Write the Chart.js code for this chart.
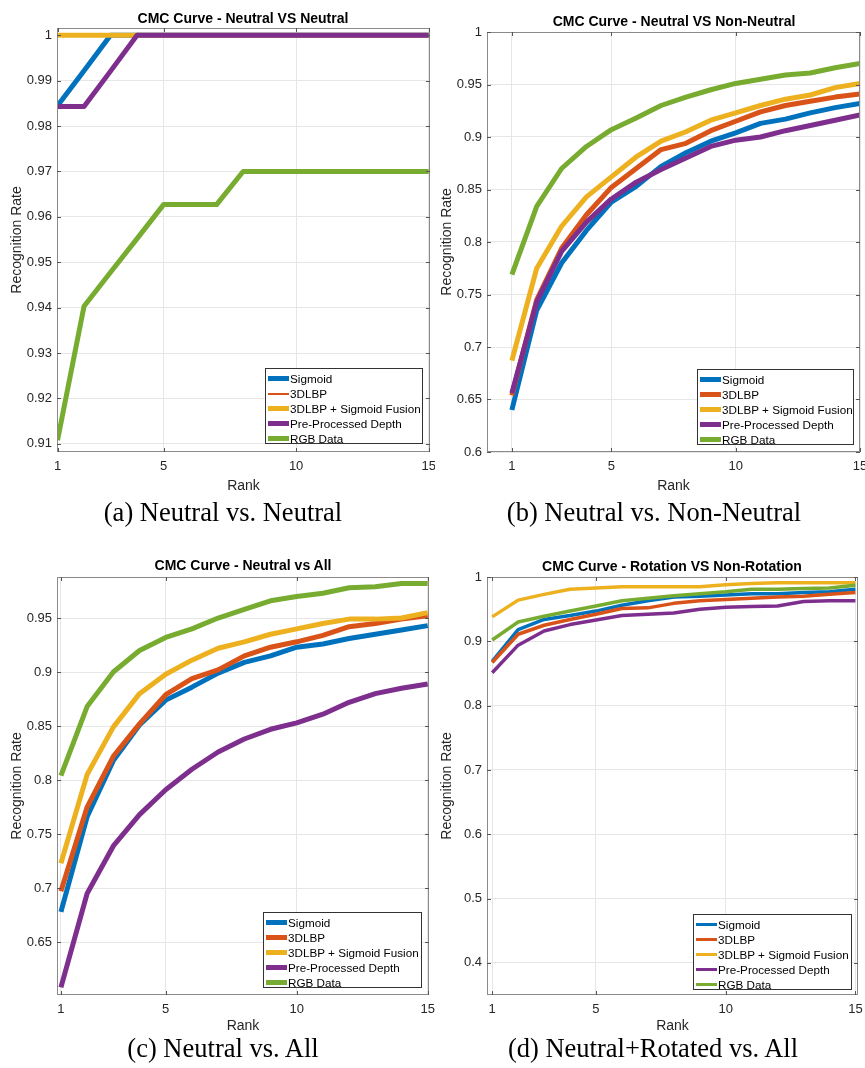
<!DOCTYPE html>
<html>
<head>
<meta charset="utf-8">
<script src="https://cdn.jsdelivr.net/npm/chart.js@4.4.1/dist/chart.umd.min.js"></script>
<style>
  html, body { margin: 0; padding: 0; background: #fff; }
  body { position: relative; width: 865px; height: 1068px; overflow: hidden; }
  canvas { position: absolute; }
  .ttl { position: absolute; font: bold 14px "Liberation Sans", Arial, sans-serif; color: #000; white-space: nowrap; transform: translate(-50%, -50%); }
  .cap { position: absolute; font: 26.5px "Liberation Serif", "Times New Roman", serif; color: #000; white-space: nowrap; transform: translate(-50%, -50%); }
  .leg { position: absolute; background: #fff; border: 1px solid #333; box-sizing: border-box; font: 11.7px "Liberation Sans", Arial, sans-serif; color: #000; }
  .leg .row { position: absolute; left: 0; height: 15px; white-space: nowrap; }
  .leg .sw { position: absolute; left: 2px; width: 21px; }
  .leg .tx { position: absolute; left: 24px; top: 0; line-height: 15px; }
</style>
</head>
<body>
<canvas id="ca" width="435" height="500" style="left:0px;top:0px"></canvas>
<canvas id="cb" width="435" height="500" style="left:430px;top:0px"></canvas>
<canvas id="cc" width="435" height="500" style="left:0px;top:540px"></canvas>
<canvas id="cd" width="435" height="500" style="left:430px;top:540px"></canvas>

<div class="ttl" style="left:243px;top:18px">CMC Curve - Neutral VS Neutral</div>
<div class="ttl" style="left:674px;top:21px">CMC Curve - Neutral VS Non-Neutral</div>
<div class="ttl" style="left:243px;top:565px">CMC Curve - Neutral vs All</div>
<div class="ttl" style="left:672px;top:566px">CMC Curve - Rotation VS Non-Rotation</div>

<div class="cap" style="left:223px;top:512px">(a) Neutral vs. Neutral</div>
<div class="cap" style="left:654px;top:512px">(b) Neutral vs. Non-Neutral</div>
<div class="cap" style="left:223px;top:1048px">(c) Neutral vs. All</div>
<div class="cap" style="left:653px;top:1048px">(d) Neutral+Rotated vs. All</div>

<script>
// shared
const ranks = [1, 2, 3, 4, 5, 6, 7, 8, 9, 10, 11, 12, 13, 14, 15];
const xTicks = [1, 5, 10, 15];
const seriesNames = ['Sigmoid', '3DLBP', '3DLBP + Sigmoid Fusion', 'Pre-Processed Depth', 'RGB Data'];
const seriesColors = ['#0072BD', '#D95319', '#EDB120', '#7E2F8E', '#77AC30'];

// (a) Neutral vs Neutral
const aSigmoid = [0.9845, 0.9922, 1, 1, 1, 1, 1, 1, 1, 1, 1, 1, 1, 1, 1];
const a3dlbp   = [1, 1, 1, 1, 1, 1, 1, 1, 1, 1, 1, 1, 1, 1, 1];
const aFusion  = [1, 1, 1, 1, 1, 1, 1, 1, 1, 1, 1, 1, 1, 1, 1];
const aDepth   = [0.9843, 0.9843, 0.9921, 1, 1, 1, 1, 1, 1, 1, 1, 1, 1, 1, 1];
const aRgb     = [0.9108, 0.9403, 0.9478, 0.9552, 0.9627, 0.9627, 0.9627, 0.970, 0.970, 0.970, 0.970, 0.970, 0.970, 0.970, 0.970];
const aYTicks  = [0.91, 0.92, 0.93, 0.94, 0.95, 0.96, 0.97, 0.98, 0.99, 1];

// (b) Neutral vs Non-Neutral
const bSigmoid = [0.640, 0.735, 0.780, 0.811, 0.838, 0.853, 0.872, 0.885, 0.896, 0.904, 0.913, 0.917, 0.923, 0.928, 0.932];
const b3dlbp   = [0.654, 0.745, 0.794, 0.826, 0.852, 0.870, 0.888, 0.894, 0.906, 0.915, 0.924, 0.930, 0.934, 0.938, 0.941];
const bFusion  = [0.687, 0.775, 0.815, 0.843, 0.862, 0.881, 0.896, 0.905, 0.916, 0.923, 0.930, 0.936, 0.940, 0.947, 0.951];
const bDepth   = [0.656, 0.743, 0.791, 0.819, 0.841, 0.857, 0.869, 0.880, 0.891, 0.897, 0.900, 0.906, 0.911, 0.916, 0.921];
const bRgb     = [0.769, 0.834, 0.870, 0.891, 0.907, 0.918, 0.930, 0.938, 0.945, 0.951, 0.955, 0.959, 0.961, 0.966, 0.970];
const bYTicks  = [0.6, 0.65, 0.7, 0.75, 0.8, 0.85, 0.9, 0.95, 1];

// (c) Neutral vs All
const cSigmoid = [0.678, 0.766, 0.818, 0.851, 0.874, 0.886, 0.899, 0.909, 0.915, 0.923, 0.926, 0.931, 0.935, 0.939, 0.943];
const c3dlbp   = [0.697, 0.775, 0.822, 0.852, 0.879, 0.894, 0.902, 0.915, 0.923, 0.928, 0.934, 0.942, 0.945, 0.949, 0.952];
const cFusion  = [0.723, 0.805, 0.849, 0.880, 0.898, 0.911, 0.922, 0.928, 0.935, 0.940, 0.945, 0.949, 0.949, 0.950, 0.955];
const cDepth   = [0.608, 0.695, 0.739, 0.768, 0.791, 0.810, 0.826, 0.838, 0.847, 0.853, 0.861, 0.872, 0.880, 0.885, 0.889];
const cRgb     = [0.804, 0.868, 0.900, 0.920, 0.932, 0.940, 0.950, 0.958, 0.966, 0.970, 0.973, 0.978, 0.979, 0.982, 0.982];
const cYTicks  = [0.65, 0.7, 0.75, 0.8, 0.85, 0.9, 0.95];

// (d) Rotation vs Non-Rotation
const dSigmoid = [0.869, 0.918, 0.934, 0.940, 0.947, 0.956, 0.963, 0.969, 0.970, 0.972, 0.974, 0.974, 0.976, 0.977, 0.981];
const d3dlbp   = [0.867, 0.911, 0.925, 0.934, 0.942, 0.951, 0.952, 0.959, 0.963, 0.965, 0.967, 0.969, 0.970, 0.973, 0.976];
const dFusion  = [0.938, 0.964, 0.973, 0.981, 0.983, 0.985, 0.985, 0.985, 0.985, 0.988, 0.990, 0.991, 0.991, 0.991, 0.991];
const dDepth   = [0.851, 0.894, 0.916, 0.926, 0.933, 0.940, 0.942, 0.944, 0.950, 0.953, 0.954, 0.955, 0.962, 0.963, 0.963];
const dRgb     = [0.902, 0.930, 0.939, 0.947, 0.955, 0.963, 0.967, 0.971, 0.974, 0.977, 0.981, 0.981, 0.982, 0.983, 0.987];
const dYTicks  = [0.4, 0.5, 0.6, 0.7, 0.8, 0.9, 1];

const fontFamily = '"Liberation Sans", Arial, sans-serif';
const tickColor = '#262626';
const gridColor = '#e6e6e6';
const boxColor = '#8a8a8a';

// MATLAB style box + little inward tick marks
const boxPlugin = {
  id: 'box',
  afterDraw(chart) {
    const {ctx, chartArea: a, scales} = chart;
    ctx.save();
    ctx.strokeStyle = boxColor;
    ctx.lineWidth = 1;
    ctx.strokeRect(a.left + 0.5, a.top + 0.5, a.right - a.left - 1, a.bottom - a.top - 1);
    ctx.strokeStyle = '#555';
    ctx.beginPath();
    scales.x.ticks.forEach(t => {
      const px = Math.round(scales.x.getPixelForValue(t.value)) + 0.5;
      ctx.moveTo(px, a.bottom); ctx.lineTo(px, a.bottom - 4);
      ctx.moveTo(px, a.top); ctx.lineTo(px, a.top + 4);
    });
    scales.y.ticks.forEach(t => {
      const py = Math.round(scales.y.getPixelForValue(t.value)) + 0.5;
      ctx.moveTo(a.left, py); ctx.lineTo(a.left + 4, py);
      ctx.moveTo(a.right, py); ctx.lineTo(a.right - 4, py);
    });
    ctx.stroke();
    ctx.restore();
  }
};

function makeChart(id, p) {
  new Chart(document.getElementById(id), {
    type: 'line',
    data: {
      datasets: p.series.map((vals, i) => ({
        label: seriesNames[i],
        data: ranks.map((r, k) => ({x: r, y: vals[k]})),
        borderColor: seriesColors[i],
        backgroundColor: seriesColors[i],
        borderWidth: p.widths[i],
        pointRadius: 0,
        tension: 0,
        fill: false,
        order: 5 - i,
        borderJoinStyle: 'round',
        borderCapStyle: 'butt'
      }))
    },
    options: {
      responsive: false,
      animation: false,
      devicePixelRatio: 1,
      layout: {padding: {top: p.padTop, right: p.padRight, left: 0, bottom: 0}},
      plugins: {legend: {display: false}, tooltip: {enabled: false}, title: {display: false}},
      scales: {
        x: {
          type: 'linear', min: p.xmin, max: p.xmax,
          afterBuildTicks: s => { s.ticks = xTicks.map(v => ({value: v})); },
          afterFit: s => { s.height = p.xHeight; s.paddingLeft = 0; s.paddingRight = 0; },
          grid: {color: gridColor, drawTicks: false},
          border: {display: false},
          ticks: {padding: 7, color: tickColor, autoSkip: false, maxRotation: 0,
                  font: {family: fontFamily, size: 13}, callback: v => String(v)},
          title: {display: true, text: 'Rank', color: tickColor,
                  font: {family: fontFamily, size: 14}, padding: {top: 0, bottom: 5.6}}
        },
        y: {
          type: 'linear', min: p.ymin, max: p.ymax,
          afterBuildTicks: s => { s.ticks = p.yTicks.map(v => ({value: v})); },
          afterFit: s => { s.width = 57; s.paddingTop = 0; s.paddingBottom = 0; },
          grid: {color: gridColor, drawTicks: false},
          border: {display: false},
          ticks: {padding: 5, color: tickColor, autoSkip: false,
                  font: {family: fontFamily, size: 13}, callback: v => String(+v.toFixed(2))},
          title: {display: true, text: 'Recognition Rate', color: tickColor,
                  font: {family: fontFamily, size: 14}, padding: {top: 9, bottom: 0}}
        }
      }
    },
    plugins: [boxPlugin]
  });
}

function makeLegend(left, top, width, height, widths) {
  const box = document.createElement('div');
  box.className = 'leg';
  box.style.cssText = `left:${left}px;top:${top}px;width:${width}px;height:${height}px`;
  seriesNames.forEach((name, i) => {
    const row = document.createElement('div');
    row.className = 'row';
    row.style.top = (2 + i * 15) + 'px';
    const sw = document.createElement('span');
    sw.className = 'sw';
    sw.style.cssText = `background:${seriesColors[i]};height:${widths[i]}px;top:${7.5 - widths[i] / 2}px`;
    const tx = document.createElement('span');
    tx.className = 'tx';
    tx.textContent = name;
    row.appendChild(sw);
    row.appendChild(tx);
    box.appendChild(row);
  });
  document.body.appendChild(box);
}

makeChart('ca', {series: [aSigmoid, a3dlbp, aFusion, aDepth, aRgb], widths: [5, 2, 5, 5, 5],
  padTop: 28, padRight: 5, xHeight: 48, xmin: 0.98, xmax: 15.05, ymin: 0.9082, ymax: 1.0016, yTicks: aYTicks});
makeChart('cb', {series: [bSigmoid, b3dlbp, bFusion, bDepth, bRgb], widths: [5, 5, 5, 5, 5],
  padTop: 32, padRight: 5, xHeight: 48, xmin: 0, xmax: 15, ymin: 0.6, ymax: 1, yTicks: bYTicks});
makeChart('cc', {series: [cSigmoid, c3dlbp, cFusion, cDepth, cRgb], widths: [5, 5, 5, 5, 5],
  padTop: 37, padRight: 6, xHeight: 45, xmin: 0.85, xmax: 15.05, ymin: 0.601, ymax: 0.988, yTicks: cYTicks});
makeChart('cd', {series: [dSigmoid, d3dlbp, dFusion, dDepth, dRgb], widths: [3.5, 3.5, 3.5, 3.5, 3.5],
  padTop: 37, padRight: 7, xHeight: 45, xmin: 0.8, xmax: 15.1, ymin: 0.35, ymax: 1, yTicks: dYTicks});

makeLegend(265, 368, 158, 76, [5, 2, 5, 5, 5]);
makeLegend(697, 369, 157, 76, [5, 5, 5, 5, 5]);
makeLegend(263, 912, 159, 76, [5, 5, 5, 5, 5]);
makeLegend(693, 914, 159, 76, [3, 3, 3, 3, 3]);
</script>
</body>
</html>
